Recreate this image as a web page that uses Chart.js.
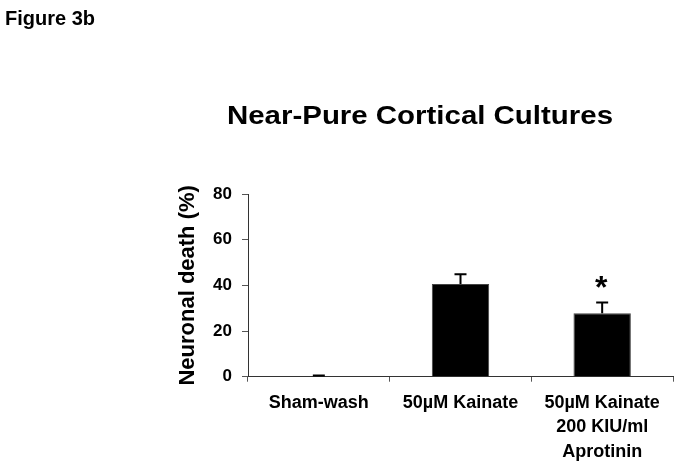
<!DOCTYPE html>
<html>
<head>
<meta charset="utf-8">
<script src="https://cdn.jsdelivr.net/npm/chart.js@4"></script>
<style>
  html, body { margin: 0; padding: 0; background: #fff; }
  canvas { display: block; }
</style>
</head>
<body>
<canvas id="c" width="678" height="467"></canvas>
<script>
const figureLabel = 'Figure 3b';
const chartTitle = 'Near-Pure Cortical Cultures';
const yAxisTitle = 'Neuronal death (%)';
const categories = [['Sham-wash'], ['50µM Kainate'], ['50µM Kainate', '200 KIU/ml', 'Aprotinin']];
const deathMeans = [0.2, 40.6, 27.8];
const deathErrors = [0.3, 4.3, 4.7];
const significance = ['', '', '*'];
const yTicks = [0, 20, 40, 60, 80];

const FONT = "'Liberation Sans', Arial, sans-serif";

const textPlugin = {
  id: 'texts',
  afterDraw(chart) {
    const ctx = chart.ctx;
    ctx.save();
    ctx.fillStyle = '#000';
    ctx.textBaseline = 'alphabetic';
    // Figure label
    ctx.font = 'bold 20px ' + FONT;
    ctx.textAlign = 'left';
    ctx.fillText(figureLabel, 5, 25);
    // Title, fitted to the reference's width
    ctx.font = 'bold 25px ' + FONT;
    const w = ctx.measureText(chartTitle).width;
    const sx = 386 / w;
    ctx.translate(420, 123.5);
    ctx.scale(sx, 1);
    ctx.textAlign = 'center';
    ctx.fillText(chartTitle, 0, 0);
    ctx.restore();
  }
};

const errorBarPlugin = {
  id: 'errorBars',
  afterDatasetsDraw(chart) {
    const ctx = chart.ctx;
    const yScale = chart.scales.y;
    const meta = chart.getDatasetMeta(0);
    ctx.save();
    ctx.strokeStyle = '#000';
    ctx.lineWidth = 2;
    meta.data.forEach((bar, i) => {
      const x = bar.x;
      const yBase = yScale.getPixelForValue(deathMeans[i]);
      const yTop = yScale.getPixelForValue(deathMeans[i] + deathErrors[i]);
      ctx.beginPath();
      ctx.moveTo(x, yBase);
      ctx.lineTo(x, yTop);
      ctx.moveTo(x - 6, yTop);
      ctx.lineTo(x + 6, yTop);
      ctx.stroke();
      if (significance[i]) {
        ctx.fillStyle = '#000';
        ctx.font = 'bold 32px ' + FONT;
        ctx.textAlign = 'center';
        ctx.textBaseline = 'alphabetic';
        ctx.fillText(significance[i], x - 1, yTop - 4);
      }
    });
    ctx.restore();
  }
};

new Chart(document.getElementById('c'), {
  type: 'bar',
  data: {
    labels: categories,
    datasets: [{
      data: deathMeans,
      backgroundColor: '#000',
      borderColor: '#444',
      borderWidth: 1,
      categoryPercentage: 1,
      barPercentage: 0.405
    }]
  },
  options: {
    responsive: false,
    animation: false,
    devicePixelRatio: 1,
    layout: { padding: { top: 194, left: 175, right: 5, bottom: 0 } },
    plugins: {
      legend: { display: false },
      title: { display: false },
      tooltip: { enabled: false }
    },
    scales: {
      x: {
        offset: true,
        grid: { display: true, drawOnChartArea: false, offset: true, tickLength: 5, color: '#555', tickWidth: 1 },
        border: { display: true, color: '#333', width: 1 },
        ticks: {
          color: '#000',
          padding: 9,
          maxRotation: 0,
          autoSkip: false,
          font: { family: FONT, size: 18, weight: 'bold', lineHeight: 1.36 }
        },
        afterFit(scale) { scale.height = 90.3; }
      },
      y: {
        min: 0,
        max: 80,
        afterBuildTicks(scale) { scale.ticks = yTicks.map(v => ({ value: v })); },
        grid: { display: true, drawOnChartArea: false, tickLength: 6, color: '#555' },
        border: { display: true, color: '#333', width: 1 },
        ticks: {
          color: '#000',
          padding: 10,
          font: { family: FONT, size: 17, weight: 'bold' }
        },
        title: {
          display: true,
          text: yAxisTitle,
          color: '#000',
          padding: 0,
          font: { family: FONT, size: 22, weight: 'bold' }
        },
        afterFit(scale) { scale.width = 73; }
      }
    }
  },
  plugins: [textPlugin, errorBarPlugin]
});
</script>
</body>
</html>
